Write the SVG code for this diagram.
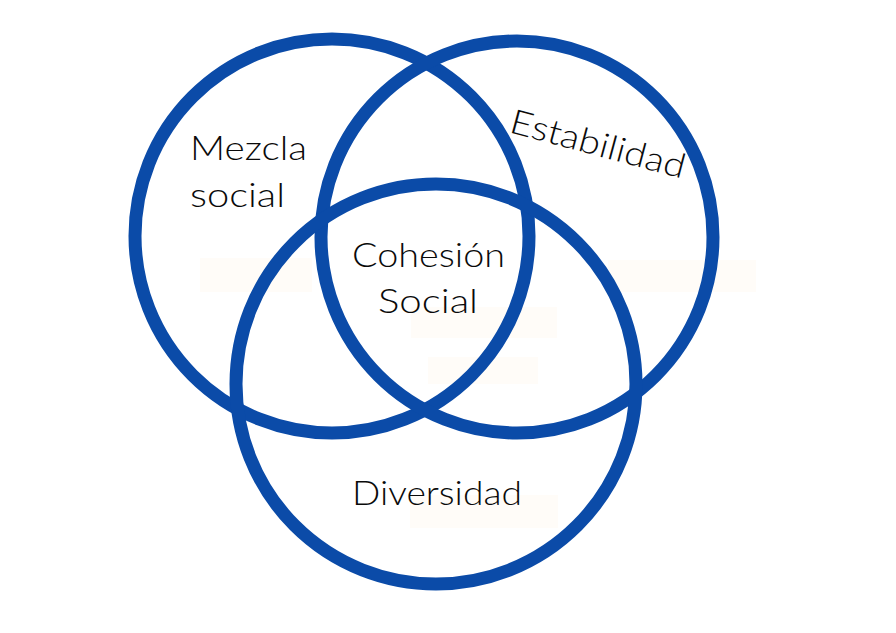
<svg xmlns="http://www.w3.org/2000/svg" width="896" height="633" viewBox="0 0 896 633">
<style>
.ring{fill:none;stroke:#0b4ba8;stroke-width:13}
.lbl{font-family:Lato,"Open Sans","Liberation Sans",sans-serif;font-size:34px;font-weight:300;fill:#0a0a0a}
.patch{fill:#fffcf8}
</style>
<rect width="896" height="633" fill="#ffffff"/>
<g id="background-patches">
<rect class="patch" x="200" y="258" width="112" height="34"/>
<rect class="patch" x="608" y="260" width="148" height="32"/>
<rect class="patch" x="411" y="307" width="146" height="31"/>
<rect class="patch" x="428" y="357" width="110" height="27"/>
<rect class="patch" x="410" y="495" width="148" height="33"/>
</g>
<g id="connectors"></g>
<g id="mezcla-social">
<circle class="ring" cx="332" cy="236" r="197"/>
<text class="lbl" x="190" y="160" textLength="117" lengthAdjust="spacingAndGlyphs">Mezcla</text>
<text class="lbl" x="190" y="207" textLength="95" lengthAdjust="spacingAndGlyphs">social</text>
</g>
<g id="estabilidad">
<circle class="ring" cx="517" cy="237" r="196"/>
<text class="lbl" transform="translate(508,132) rotate(15)" x="0" y="0" textLength="180" lengthAdjust="spacingAndGlyphs">Estabilidad</text>
</g>
<g id="diversidad">
<circle class="ring" cx="436" cy="384" r="200"/>
<text class="lbl" x="352" y="505" textLength="170" lengthAdjust="spacingAndGlyphs">Diversidad</text>
</g>
<g id="cohesion-social">
<text class="lbl" x="352" y="267" textLength="153" lengthAdjust="spacingAndGlyphs">Cohesión</text>
<text class="lbl" x="378" y="313" textLength="100" lengthAdjust="spacingAndGlyphs">Social</text>
</g>
</svg>
